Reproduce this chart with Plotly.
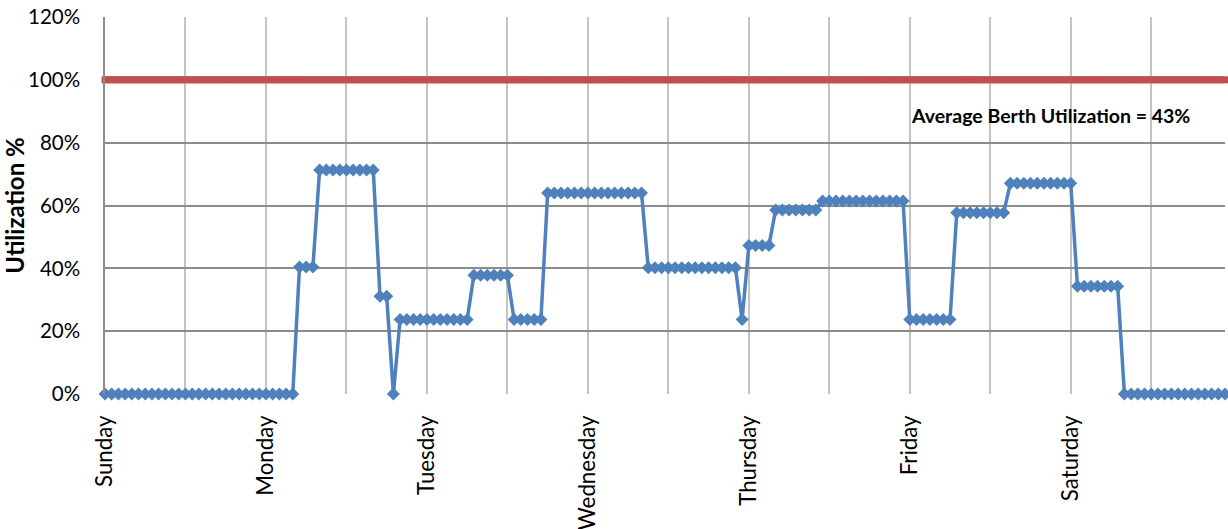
import plotly.graph_objects as go

# Hourly berth utilization over one week (hour 0 = Sunday 00:00)
hours = list(range(168))
utilization = [
    # Sunday
    0, 0, 0, 0, 0, 0, 0, 0, 0, 0, 0, 0, 0, 0, 0, 0, 0, 0, 0, 0, 0, 0, 0, 0,
    # Monday
    0, 0, 0, 0, 0, 40.4, 40.4, 40.4, 71.3, 71.3, 71.3, 71.3, 71.3, 71.3, 71.3, 71.3,
    71.3, 31.1, 31.1, 0, 23.7, 23.7, 23.7, 23.7,
    # Tuesday
    23.7, 23.7, 23.7, 23.7, 23.7, 23.7, 23.7, 37.8, 37.8, 37.8, 37.8, 37.8, 37.8, 23.7,
    23.7, 23.7, 23.7, 23.7, 64.0, 64.0, 64.0, 64.0, 64.0, 64.0,
    # Wednesday
    64.0, 64.0, 64.0, 64.0, 64.0, 64.0, 64.0, 64.0, 64.0, 40.2, 40.2, 40.2, 40.2, 40.2,
    40.2, 40.2, 40.2, 40.2, 40.2, 40.2, 40.2, 40.2, 40.2, 23.7,
    # Thursday
    47.3, 47.3, 47.3, 47.3, 58.6, 58.6, 58.6, 58.6, 58.6, 58.6, 58.6, 61.4, 61.4, 61.4,
    61.4, 61.4, 61.4, 61.4, 61.4, 61.4, 61.4, 61.4, 61.4, 61.4,
    # Friday
    23.7, 23.7, 23.7, 23.7, 23.7, 23.7, 23.7, 57.7, 57.7, 57.7, 57.7, 57.7, 57.7, 57.7,
    57.7, 67.1, 67.1, 67.1, 67.1, 67.1, 67.1, 67.1, 67.1, 67.1,
    # Saturday
    67.1, 34.3, 34.3, 34.3, 34.3, 34.3, 34.3, 34.3, 0, 0, 0, 0, 0, 0, 0, 0,
    0, 0, 0, 0, 0, 0, 0, 0,
]
capacity = [100] * len(hours)

day_names = ["Sunday", "Monday", "Tuesday", "Wednesday", "Thursday", "Friday", "Saturday"]
grid_hours = list(range(0, 168, 12))
grid_text = [day_names[h // 24] if h % 24 == 0 else "" for h in grid_hours]

y_ticks = [0, 20, 40, 60, 80, 100, 120]
y_tick_text = ["0%", "20%", "40%", "60%", "80%", "100%", "120%"]
average_label = "Average Berth Utilization = 43%"

FONT = "Lato, 'Open Sans', sans-serif"

# Plot area in pixels
ML, MR, MT, MB = 105, 3, 17, 135
W, H = 1228, 529
plot_w = W - ML - MR
plot_h = H - MT - MB

fig = go.Figure()

fig.add_trace(go.Scatter(
    x=hours, y=capacity, mode="lines+markers",
    line=dict(color="#C0504D", width=7),
    marker=dict(symbol="square", size=7, color="#C0504D"),
    cliponaxis=False, showlegend=False, hoverinfo="skip",
))

fig.add_trace(go.Scatter(
    x=hours, y=utilization, mode="lines+markers",
    line=dict(color="#4F81BD", width=3.5),
    marker=dict(symbol="diamond", size=10, color="#4F81BD"),
    cliponaxis=False, showlegend=False,
))

fig.add_annotation(
    x=(1050 - ML) / plot_w, y=(H - MB - 116) / plot_h,
    xref="paper", yref="paper", text="<b>" + average_label + "</b>",
    showarrow=False, font=dict(family=FONT, size=19.5, color="black"),
    xanchor="center", yanchor="middle",
)

fig.update_layout(
    width=W, height=H,
    margin=dict(l=ML, r=MR, t=MT, b=MB),
    paper_bgcolor="white", plot_bgcolor="white",
    font=dict(family=FONT, color="black"),
    xaxis=dict(
        range=[0, 167], tickvals=grid_hours, ticktext=grid_text,
        tickangle=-90, showgrid=True, gridcolor="#C4C4C4", gridwidth=1.5,
        zeroline=False, showline=False, ticks="", ticklabelstandoff=16,
        tickfont=dict(family=FONT, size=22.3), automargin=False,
    ),
    yaxis=dict(
        range=[0, 120], tickvals=y_ticks, ticktext=y_tick_text,
        showgrid=True, gridcolor="#8C8C8C", gridwidth=1.5,
        zeroline=False, showline=True, linecolor="#8C8C8C", linewidth=1.5,
        ticks="", ticklabelstandoff=19, automargin=False,
        tickfont=dict(family=FONT, size=20.5),
        title=dict(text="<b>Utilization %</b>", font=dict(family=FONT, size=24), standoff=0),
    ),
)

fig.write_html("out.html")
